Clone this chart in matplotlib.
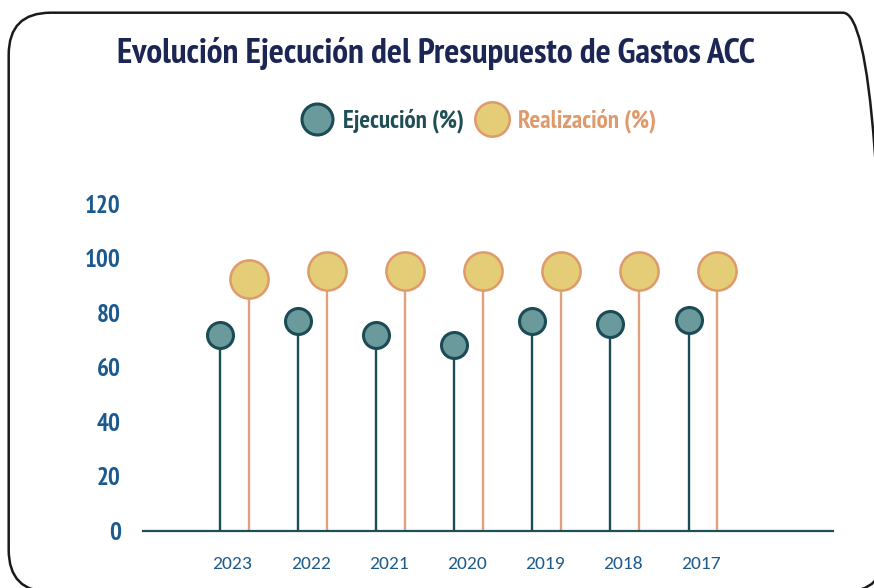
import matplotlib
matplotlib.use("Agg")
import matplotlib.pyplot as plt
from matplotlib.lines import Line2D
from matplotlib.patches import FancyBboxPatch

years = ["2023", "2022", "2021", "2020", "2019", "2018", "2017"]
ejecucion = [71.8, 76.9, 71.8, 68.1, 77.1, 75.9, 77.2]
realizacion = [92.3, 95.2, 95.2, 95.2, 95.2, 95.2, 95.2]
y_ticks = [0, 20, 40, 60, 80, 100, 120]

c_ejec_fill = "#6a9a9c"
c_ejec_edge = "#1b4b55"
c_real_fill = "#e5cd78"
c_real_edge = "#df9a6c"
c_title = "#1c2654"
c_ytick = "#1b5a8f"

narrow = ["PT Sans Narrow", "DejaVu Sans"]

fig = plt.figure(figsize=(8.74, 5.88), dpi=100)
ax = fig.add_axes([143 / 874, (588 - 530.5) / 588, 690 / 874, 326.6 / 588])

x = list(range(len(years)))
x_real = [i + 0.37 for i in x]

ax.vlines(x, 0, ejecucion, color=c_ejec_edge, lw=1.7, zorder=2)
ax.vlines(x_real, 0, realizacion, color="#e0a27c", lw=1.7, zorder=2)
ax.plot(x, ejecucion, "o", ls="none", ms=18.7, mfc=c_ejec_fill, mec=c_ejec_edge, mew=2.2, zorder=3)
ax.plot(x_real, realizacion, "o", ls="none", ms=27.5, mfc=c_real_fill, mec=c_real_edge, mew=1.8, zorder=3)

ax.set_xlim(-0.986, 7.85)
ax.set_ylim(0, 120)
for s in ["top", "right", "left"]:
    ax.spines[s].set_visible(False)
ax.spines["bottom"].set_color("#1f4e5a")
ax.spines["bottom"].set_linewidth(1.6)

ax.set_yticks(y_ticks)
ax.set_yticklabels([str(v) for v in y_ticks], family=narrow, fontweight="bold",
                   fontsize=18, color=c_ytick)
ax.set_xticks([i + 0.16 for i in x])
ax.set_xticklabels(years, family=["Carlito", "DejaVu Sans"], fontsize=14, color="#1d5b8c")
ax.tick_params(axis="y", length=0, pad=16)
ax.tick_params(axis="x", length=0, pad=18.5)

fig.text(436 / 874, 1 - 53 / 588, "Evolución Ejecución del Presupuesto de Gastos ACC",
         ha="center", va="center", family=narrow, fontweight="bold", fontsize=25.5, color=c_title)

handles = [
    Line2D([], [], ls="none", marker="o", ms=22.3, mfc=c_ejec_fill, mec=c_ejec_edge, mew=2.2),
    Line2D([], [], ls="none", marker="o", ms=24.8, mfc=c_real_fill, mec=c_real_edge, mew=1.8),
]
leg = fig.legend(handles, ["Ejecución (%)", "Realización (%)"], loc="center",
                 bbox_to_anchor=(479 / 874, 1 - 121 / 588), ncol=2, frameon=False,
                 handletextpad=0.45, columnspacing=0.5, handlelength=1.2,
                 prop={"family": narrow, "weight": "bold", "size": 18})
leg.get_texts()[0].set_color("#1f4e55")
leg.get_texts()[1].set_color(c_real_edge)

frame = FancyBboxPatch((0.087, -0.04), 8.85 - 0.087, 5.753 + 0.04,
                       boxstyle="round,pad=0,rounding_size=0.42",
                       transform=fig.dpi_scale_trans, fill=False,
                       ec="#1a1a1a", lw=1.8, clip_on=False)
fig.add_artist(frame)

fig.savefig("out.png", dpi=100)
